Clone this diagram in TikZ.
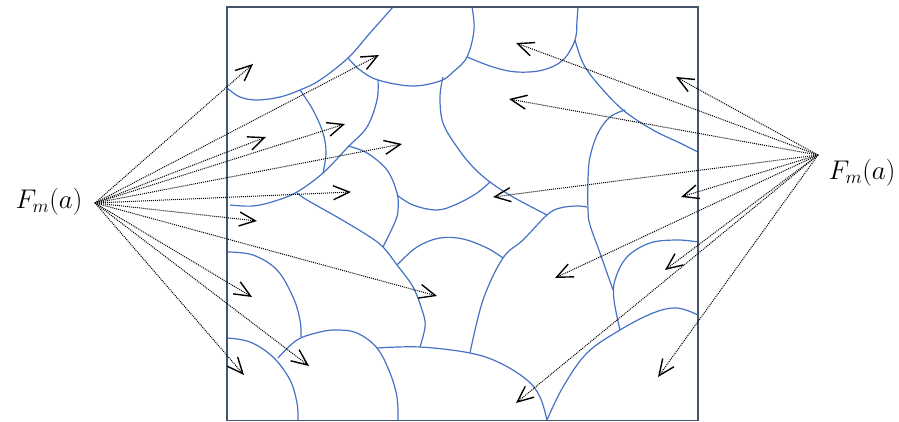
\RequirePackage{fix-cm}
\documentclass[tikz,border=0pt]{standalone}
\usetikzlibrary{arrows.meta}
\definecolor{cellblue}{HTML}{4472C4}
\definecolor{framecol}{HTML}{44546A}
\tikzset{
  cell/.style={draw=cellblue, line width=1.2pt},
  frame/.style={draw=framecol, line width=1.8pt},
  force/.style={draw=black, line width=1pt, dash pattern=on 1pt off 1pt,
    -{Straight Barb[length=16pt,width=14pt,line width=1.4pt]}},
  lbl/.style={font=\fontsize{27}{30}\selectfont, inner sep=0pt}
}
\begin{document}
\begin{tikzpicture}[x=1pt,y=-1pt]
\useasboundingbox (0,0) rectangle (899,422);
% cell boundaries
\draw[cell] plot[smooth,tension=0.6] coordinates {(393,7) (370,33) (348,58) (320,80) (300,90) (280,97) (257,100) (240,97) (227,88)};
\draw[cell] plot[smooth,tension=0.6] coordinates {(348,58) (360,70) (378,80) (412,86) (440,81) (453,72) (467,57) (474,30) (472,7)};
\draw[cell] plot[smooth,tension=0.6] coordinates {(300,90) (313,110) (323,133) (326,153) (323,173)};
\draw[cell] plot[smooth,tension=0.6] coordinates {(378,80) (377,100) (367,127) (348,147) (323,173) (297,192) (275,201) (253,206) (230,205)};
\draw[cell] plot[smooth,tension=0.6] coordinates {(297,193) (307,200) (337,217) (367,235) (383,247) (397,265) (413,287) (423,313) (425,327) (420,347)};
\draw[cell] plot[smooth,tension=0.6] coordinates {(348,146) (367,153) (387,170) (397,193) (398,210) (395,222) (383,247)};
\draw[cell] plot[smooth,tension=0.6] coordinates {(397,195) (413,205) (437,210) (457,204) (477,193) (490,182)};
\draw[cell] plot[smooth,tension=0.6] coordinates {(467,57) (493,67) (517,72) (543,70) (563,60) (575,40) (577,20) (578,7)};
\draw[cell] plot[smooth,tension=0.6] coordinates {(575,40) (583,63) (597,83) (623,110) (653,130) (680,143) (698,152)};
\draw[cell] plot[smooth,tension=0.6] coordinates {(443,77) (440,97) (443,123) (457,147) (473,167) (490,182) (513,197) (547,215)};
\draw[cell] plot[smooth,tension=0.6] coordinates {(625,110) (610,117) (598,133) (590,157) (588,180) (588,210) (590,225) (600,253) (613,290)};
\draw[cell] plot[smooth,tension=0.6] coordinates {(470,353) (483,300) (503,258) (523,240) (547,215) (560,208) (577,206) (587,207)};
\draw[cell] plot[smooth,tension=0.6] coordinates {(397,265) (417,247) (440,238) (463,239) (487,248) (503,258)};
\draw[cell] plot[smooth,tension=0.6] coordinates {(377,348) (420,347) (470,353) (500,363) (527,380) (540,397) (547,420)};
\draw[cell] plot[smooth,tension=0.6] coordinates {(547,420) (563,387) (587,353) (620,330) (653,313) (677,308) (698,315)};
\draw[cell] plot[smooth,tension=0.6] coordinates {(698,242) (677,240) (650,243) (627,257) (615,280) (614,300) (620,330)};
\draw[cell] plot[smooth,tension=0.6] coordinates {(227,252) (253,255) (277,270) (293,297) (300,320) (301,337)};
\draw[cell] plot[smooth,tension=0.6] coordinates {(278,358) (297,340) (320,332) (337,330) (357,333) (377,348) (390,373) (397,397) (398,420)};
\draw[cell] plot[smooth,tension=0.6] coordinates {(227,338) (250,342) (273,357) (290,380) (297,403) (298,420)};
% frame
\draw[frame] (227,7) rectangle (698,420.5);
% labels and sources
\node[lbl] (Llab) at (49,202) {$F_m(a)$};
\node[lbl] (Rlab) at (862,173) {$F_m(a)$};
\coordinate (L) at (95,203);
\coordinate (R) at (818,155);
% left tips
\coordinate (l1) at (253,64);
\coordinate (l2) at (379,55);
\coordinate (l3) at (266,137);
\coordinate (l4) at (345,124);
\coordinate (l5) at (402,144);
\coordinate (l6) at (351,192);
\coordinate (l7) at (257,221);
\coordinate (l8) at (437,296);
\coordinate (l9) at (252,297);
\coordinate (l10) at (309,366);
\coordinate (l11) at (244,375);
% right tips
\coordinate (r1) at (516,43);
\coordinate (r2) at (676,77);
\coordinate (r3) at (509,99);
\coordinate (r4) at (493,197);
\coordinate (r5) at (681,197);
\coordinate (r6) at (555,278);
\coordinate (r7) at (665,270);
\coordinate (r8) at (516,403);
\coordinate (r9) at (658,377);
\draw[force] (L) -- (l1);
\draw[force] (L) -- (l2);
\draw[force] (L) -- (l3);
\draw[force] (L) -- (l4);
\draw[force] (L) -- (l5);
\draw[force] (L) -- (l6);
\draw[force] (L) -- (l7);
\draw[force] (L) -- (l8);
\draw[force] (L) -- (l9);
\draw[force] (L) -- (l10);
\draw[force] (L) -- (l11);
\draw[force] (R) -- (r1);
\draw[force] (R) -- (r2);
\draw[force] (R) -- (r3);
\draw[force] (R) -- (r4);
\draw[force] (R) -- (r5);
\draw[force] (R) -- (r6);
\draw[force] (R) -- (r7);
\draw[force] (R) -- (r8);
\draw[force] (R) -- (r9);
\end{tikzpicture}
\end{document}
